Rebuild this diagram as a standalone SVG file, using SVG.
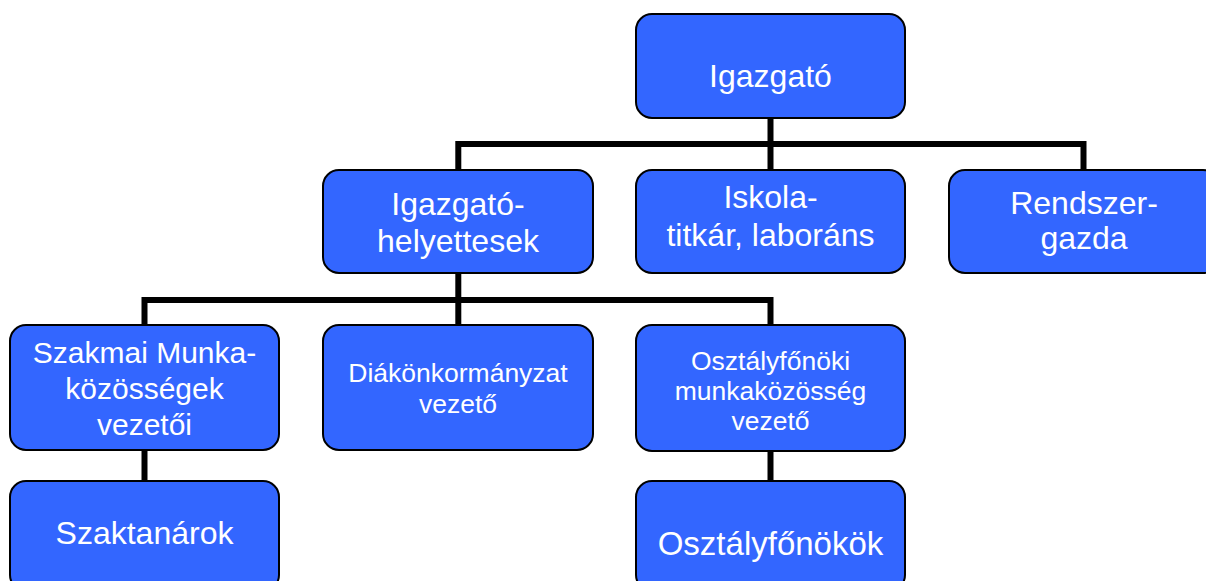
<svg xmlns="http://www.w3.org/2000/svg" width="1206" height="581" viewBox="0 0 1206 581">
<style>
.box{fill:#3366FF;stroke:#000;stroke-width:2}
.t{fill:#fff;font-family:"Liberation Sans",Arial,sans-serif;text-anchor:middle}
.c{fill:none;stroke:#000;stroke-width:6;stroke-linejoin:miter;stroke-linecap:butt}
</style>
<rect width="1206" height="581" fill="#fff"/>
<g id="connectors">
<path class="c" d="M770.5,118 V170"/>
<path class="c" d="M458.3,170 V144 H1083.5 V170"/>
<path class="c" d="M144.5,325 V300 H770.5 V325"/>
<path class="c" d="M458.3,273 V325"/>
<path class="c" d="M144.5,450 V481"/>
<path class="c" d="M770.5,451 V481"/>
</g>
<g id="igazgato">
<rect class="box" x="636" y="14" width="269" height="104" rx="16"/>
<text class="t" x="770.5" y="87" font-size="32">Igazgató</text>
</g>
<g id="helyettesek">
<rect class="box" x="323" y="170" width="270" height="103" rx="16"/>
<text class="t" x="458" y="215" font-size="32">Igazgató-</text>
<text class="t" x="458" y="251.5" font-size="32">helyettesek</text>
</g>
<g id="titkar">
<rect class="box" x="636" y="170" width="269" height="103" rx="16"/>
<text class="t" x="770.5" y="208.3" font-size="32">Iskola-</text>
<text class="t" x="770.5" y="245.5" font-size="32">titkár, laboráns</text>
</g>
<g id="rendszergazda">
<rect class="box" x="949" y="170" width="270" height="103" rx="16"/>
<text class="t" x="1084" y="214" font-size="32">Rendszer-</text>
<text class="t" x="1084" y="249.3" font-size="32">gazda</text>
</g>
<g id="szakmai">
<rect class="box" x="10" y="325" width="269" height="125" rx="16"/>
<text class="t" x="144.5" y="363.3" font-size="30">Szakmai Munka-</text>
<text class="t" x="144.5" y="399.3" font-size="30">közösségek</text>
<text class="t" x="144.5" y="435" font-size="30">vezetői</text>
</g>
<g id="diak">
<rect class="box" x="323" y="325" width="270" height="125" rx="16"/>
<text class="t" x="458" y="381.7" font-size="26.5">Diákönkormányzat</text>
<text class="t" x="458" y="413" font-size="26.5">vezető</text>
</g>
<g id="osztalyfonoki">
<rect class="box" x="636" y="325" width="269" height="126" rx="16"/>
<text class="t" x="770.5" y="370" font-size="26.5">Osztályfőnöki</text>
<text class="t" x="770.5" y="399.5" font-size="26.5">munkaközösség</text>
<text class="t" x="770.5" y="429.5" font-size="26.5">vezető</text>
</g>
<g id="szaktanarok">
<rect class="box" x="10" y="481" width="269" height="110" rx="16"/>
<text class="t" x="144.5" y="544" font-size="32">Szaktanárok</text>
</g>
<g id="osztalyfonokok">
<rect class="box" x="636" y="481" width="269" height="110" rx="16"/>
<text class="t" x="770.5" y="555" font-size="33">Osztályfőnökök</text>
</g>
</svg>
